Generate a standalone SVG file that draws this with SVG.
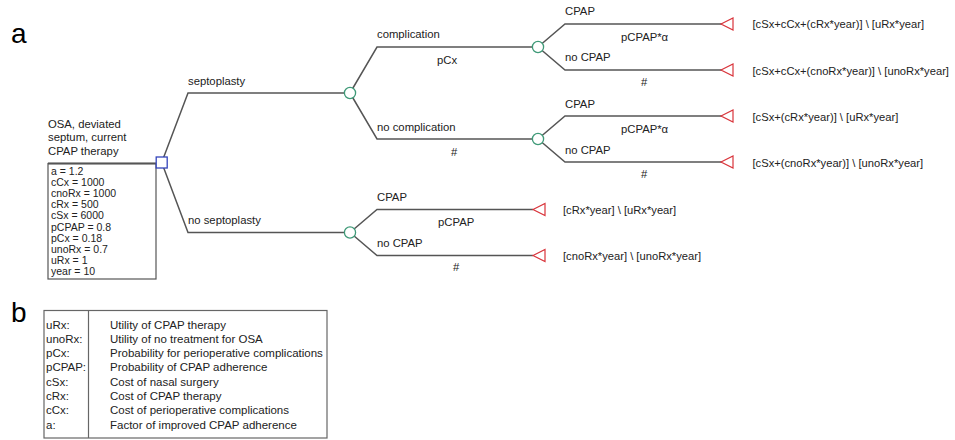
<svg xmlns="http://www.w3.org/2000/svg" width="955" height="440" viewBox="0 0 955 440">
<style>
text{font-family:"Liberation Sans",Arial,sans-serif;fill:#222}
.lbl{font-size:11.3px}
.term{font-size:11.2px}
.var{font-size:10.5px}
.big{font-size:28px;fill:#000}
.tbl{font-size:11.5px}
.edge{fill:none;stroke:#555;stroke-width:1.5}
.chance{fill:#fff;stroke:#3f9a78;stroke-width:1.3}
.dec{fill:#fff;stroke:#3344bb;stroke-width:1.3}
.leaf{fill:#fff;stroke:#d9343b;stroke-width:1.2}
</style>
<defs>
<polygon id="tri" class="leaf" points="0,0 12,-6 12,6"/>
</defs>
<rect width="955" height="440" fill="#fff"/>
<text class="big" x="11" y="43">a</text>
<text class="big" x="11" y="322">b</text>

<g id="connectors">
<path class="edge" d="M161.7,162.5 L188,93 H350"/>
<path class="edge" d="M161.7,162.5 L188,232.5 H350"/>
<path class="edge" d="M350,93 L377,47 H538"/>
<path class="edge" d="M350,93 L377,139 H538"/>
<path class="edge" d="M538,47 L565,24 H722"/>
<path class="edge" d="M538,47 L565,70 H722"/>
<path class="edge" d="M538,139 L565,116 H722"/>
<path class="edge" d="M538,139 L565,162 H722"/>
<path class="edge" d="M350,232.5 L377,209.5 H533"/>
<path class="edge" d="M350,232.5 L377,255.5 H533"/>
<text class="lbl" x="188" y="85">septoplasty</text>
<text class="lbl" x="188" y="224">no septoplasty</text>
<text class="lbl" x="377" y="38">complication</text>
<text class="lbl" x="437" y="64">pCx</text>
<text class="lbl" x="377" y="131">no complication</text>
<text class="lbl" x="451" y="156">#</text>
<text class="lbl" x="565" y="15">CPAP</text>
<text class="lbl" x="621" y="41">pCPAP*α</text>
<text class="lbl" x="565" y="61">no CPAP</text>
<text class="lbl" x="641" y="86">#</text>
<text class="lbl" x="565" y="108">CPAP</text>
<text class="lbl" x="621" y="133">pCPAP*α</text>
<text class="lbl" x="565" y="154">no CPAP</text>
<text class="lbl" x="641" y="178">#</text>
<text class="lbl" x="377" y="201">CPAP</text>
<text class="lbl" x="438" y="226">pCPAP</text>
<text class="lbl" x="377" y="247">no CPAP</text>
<text class="lbl" x="453" y="271">#</text>
</g>

<g id="root">
<text class="lbl" x="48" y="128">OSA, deviated</text>
<text class="lbl" x="48" y="141">septum, current</text>
<text class="lbl" x="48" y="154.5">CPAP therapy</text>
<rect x="48" y="163.5" width="108" height="115.5" fill="#fff" stroke="#555" stroke-width="1.2"/>
<line x1="48" y1="163.5" x2="156" y2="163.5" stroke="#555" stroke-width="2.2"/>
<text class="var" x="51" y="174.5">a = 1.2</text>
<text class="var" x="51" y="185.7">cCx = 1000</text>
<text class="var" x="51" y="196.9">cnoRx = 1000</text>
<text class="var" x="51" y="208.1">cRx = 500</text>
<text class="var" x="51" y="219.3">cSx = 6000</text>
<text class="var" x="51" y="230.5">pCPAP = 0.8</text>
<text class="var" x="51" y="241.7">pCx = 0.18</text>
<text class="var" x="51" y="252.9">unoRx = 0.7</text>
<text class="var" x="51" y="264.1">uRx = 1</text>
<text class="var" x="51" y="275.3">year = 10</text>
<rect class="dec" x="156.2" y="157" width="11" height="11"/>
</g>

<g id="c_septo"><circle class="chance" cx="350" cy="93" r="5.6"/></g>
<g id="c_nosepto"><circle class="chance" cx="350" cy="232.5" r="5.6"/></g>
<g id="c_comp"><circle class="chance" cx="538" cy="47" r="5.6"/></g>
<g id="c_nocomp"><circle class="chance" cx="538" cy="139" r="5.6"/></g>

<g id="t1"><use href="#tri" x="721" y="24"/><text class="term" x="752.5" y="28">[cSx+cCx+(cRx*year)] \ [uRx*year]</text></g>
<g id="t2"><use href="#tri" x="721" y="70"/><text class="term" x="752.5" y="74.5">[cSx+cCx+(cnoRx*year)] \ [unoRx*year]</text></g>
<g id="t3"><use href="#tri" x="721" y="116"/><text class="term" x="752.5" y="120.5">[cSx+(cRx*year)] \ [uRx*year]</text></g>
<g id="t4"><use href="#tri" x="721" y="162"/><text class="term" x="752.5" y="166.5">[cSx+(cnoRx*year)] \ [unoRx*year]</text></g>
<g id="t5"><use href="#tri" x="533" y="209.5"/><text class="term" x="563" y="213.5">[cRx*year] \ [uRx*year]</text></g>
<g id="t6"><use href="#tri" x="533" y="255.5"/><text class="term" x="563" y="260">[cnoRx*year] \ [unoRx*year]</text></g>

<g id="legend">
<rect x="44" y="310.5" width="283" height="127.5" fill="#fff" stroke="#666" stroke-width="1.2"/>
<line x1="88.5" y1="310.5" x2="88.5" y2="438" stroke="#666" stroke-width="1.2"/>
<text class="tbl" x="46" y="328.5">uRx:</text><text class="tbl" x="110" y="328.5">Utility of CPAP therapy</text>
<text class="tbl" x="46" y="342.8">unoRx:</text><text class="tbl" x="110" y="342.8">Utility of no treatment for OSA</text>
<text class="tbl" x="46" y="357.1">pCx:</text><text class="tbl" x="110" y="357.1">Probability for perioperative complications</text>
<text class="tbl" x="46" y="371.4">pCPAP:</text><text class="tbl" x="110" y="371.4">Probability of CPAP adherence</text>
<text class="tbl" x="46" y="385.7">cSx:</text><text class="tbl" x="110" y="385.7">Cost of nasal surgery</text>
<text class="tbl" x="46" y="400">cRx:</text><text class="tbl" x="110" y="400">Cost of CPAP therapy</text>
<text class="tbl" x="46" y="414.3">cCx:</text><text class="tbl" x="110" y="414.3">Cost of perioperative complications</text>
<text class="tbl" x="46" y="428.6">a:</text><text class="tbl" x="110" y="428.6">Factor of improved CPAP adherence</text>
</g>
</svg>
